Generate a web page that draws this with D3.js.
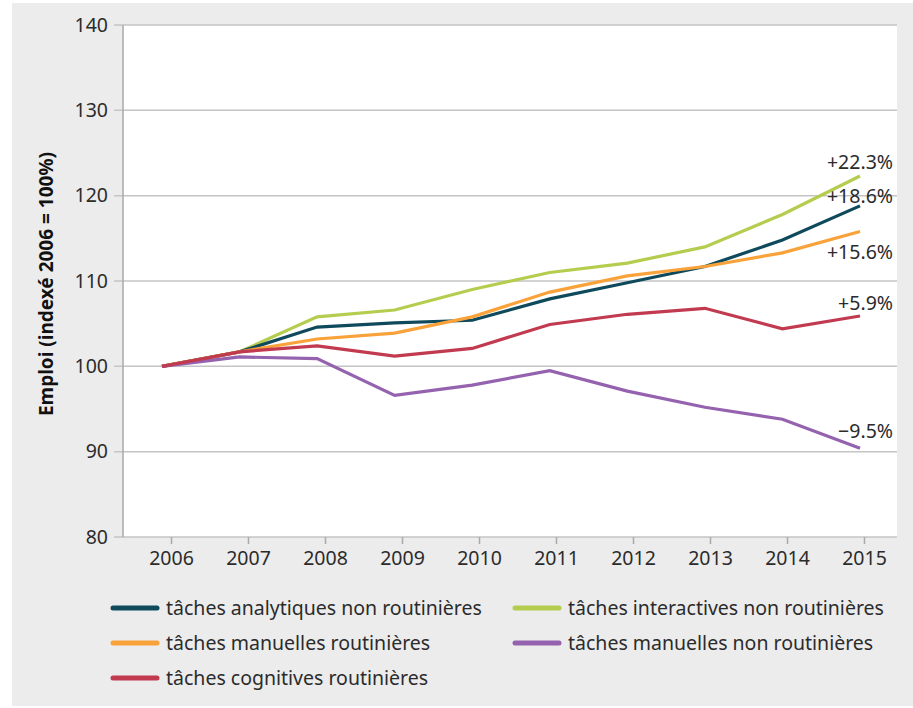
<!DOCTYPE html>
<meta charset="utf-8">
<style>
body { margin: 0; background: #fff; }
text { font-family: "Noto Sans", Lato, sans-serif; fill: #2b2b2b; }
.grid line { stroke: #c4c4c4; stroke-width: 1.5px; }
.series path { fill: none; stroke-width: 3.2px; stroke-linejoin: miter; }
</style>
<svg width="913" height="708"></svg>
<script src="https://d3js.org/d3.v7.min.js"></script>
<script>

var years = [2006, 2007, 2008, 2009, 2010, 2011, 2012, 2013, 2014, 2015];
var yTicks = [80, 90, 100, 110, 120, 130, 140];

var analytiques  = [100, 101.7, 104.6, 105.1, 105.4, 107.9, 109.8, 111.7, 114.8, 118.8];
var interactives = [100, 101.7, 105.8, 106.6, 109.0, 111.0, 112.1, 114.0, 117.8, 122.3];
var manuellesR   = [100, 101.7, 103.2, 103.9, 105.8, 108.7, 110.6, 111.7, 113.3, 115.8];
var manuellesNR  = [100, 101.1, 100.9, 96.6, 97.8, 99.5, 97.1, 95.2, 93.8, 90.4];
var cognitives   = [100, 101.7, 102.4, 101.2, 102.1, 104.9, 106.1, 106.8, 104.4, 105.9];

var names = [
  "tâches analytiques non routinières",
  "tâches interactives non routinières",
  "tâches manuelles routinières",
  "tâches manuelles non routinières",
  "tâches cognitives routinières"
];
var colors = ["#0e4a5b", "#b5cd4e", "#f9a23a", "#9462ae", "#c13a4f"];
var endLabels = ["+18.6%", "+22.3%", "+15.6%", "\u22129.5%", "+5.9%"];

var series = [analytiques, interactives, manuellesR, manuellesNR, cognitives];
// drawing order: last one on top
var drawOrder = [1, 0, 2, 3, 4];

var svg = d3.select("svg");

// panel background
svg.append("rect").attr("x", 12).attr("y", 3).attr("width", 901).attr("height", 703).attr("fill", "#ececec");

var plot = { left: 123, right: 897, top: 25, bottom: 537 };
svg.append("rect")
    .attr("x", plot.left).attr("y", plot.top)
    .attr("width", plot.right - plot.left).attr("height", plot.bottom - plot.top)
    .attr("fill", "#fff");

var y = d3.scaleLinear().domain([80, 140]).range([plot.bottom, plot.top]);
// the lines sit slightly inside the tick positions in the original
var x = d3.scaleLinear().domain([2006, 2015]).range([162, 860]);
var xAxisScale = d3.scaleLinear().domain([2006, 2015]).range([171, 864]);

// grid + y labels
var grid = svg.append("g").attr("class", "grid");
grid.selectAll("line").data(yTicks).enter().append("line")
    .attr("x1", plot.left - 9).attr("x2", plot.right)
    .attr("y1", function(d) { return y(d); })
    .attr("y2", function(d) { return y(d); });

svg.append("line")
    .attr("x1", plot.left).attr("x2", plot.left)
    .attr("y1", plot.top).attr("y2", plot.bottom)
    .attr("stroke", "#aaa").attr("stroke-width", 1.5);

svg.append("g").selectAll("text").data(yTicks).enter().append("text")
    .attr("x", 108)
    .attr("y", function(d) { return y(d); })
    .attr("dy", "0.35em")
    .attr("text-anchor", "end")
    .style("font-size", "19.5px")
    .text(function(d) { return d; });

// x axis
var xAxis = svg.append("g")
    .attr("transform", "translate(0," + plot.bottom + ")")
    .call(d3.axisBottom(xAxisScale).tickValues(years).tickFormat(d3.format("d")).tickSize(7).tickPadding(7));
xAxis.select(".domain").remove();
xAxis.selectAll(".tick line").attr("stroke", "#aaa").attr("stroke-width", 1.5);
xAxis.selectAll(".tick text").style("font-size", "19.5px").style("font-family", "Noto Sans").attr("fill", "#2b2b2b");

// y title
svg.append("text")
    .attr("transform", "translate(53,284) rotate(-90)")
    .attr("text-anchor", "middle")
    .style("font-size", "19px")
    .style("font-weight", "bold")
    .style("fill", "#111")
    .text("Emploi (indexé 2006 = 100%)");

// lines
var line = d3.line()
    .x(function(d, i) { return x(years[i]); })
    .y(function(d) { return y(d); });

svg.append("g").attr("class", "series").selectAll("path")
    .data(drawOrder).enter().append("path")
    .attr("stroke", function(k) { return colors[k]; })
    .attr("d", function(k) { return line(series[k]); });

// end labels
var labelY = [196, 162, 252, 431, 303];
svg.append("g").selectAll("text").data(endLabels).enter().append("text")
    .attr("x", 893)
    .attr("y", function(d, i) { return labelY[i]; })
    .attr("dy", "0.35em")
    .attr("text-anchor", "end")
    .style("font-size", "19.5px")
    .text(function(d) { return d; });

// legend
var legendX = [113, 515];
var legend = svg.append("g").selectAll("g").data(names).enter().append("g")
    .attr("transform", function(d, i) {
      return "translate(" + legendX[i % 2] + "," + (608 + Math.floor(i / 2) * 35) + ")";
    });
legend.append("line")
    .attr("x1", 0).attr("x2", 44)
    .attr("stroke", function(d, i) { return colors[i]; })
    .attr("stroke-width", 5)
    .attr("stroke-linecap", "round");
legend.append("text")
    .attr("x", 53)
    .attr("dy", "0.35em")
    .style("font-size", "19.5px")
    .text(function(d) { return d; });

</script>
